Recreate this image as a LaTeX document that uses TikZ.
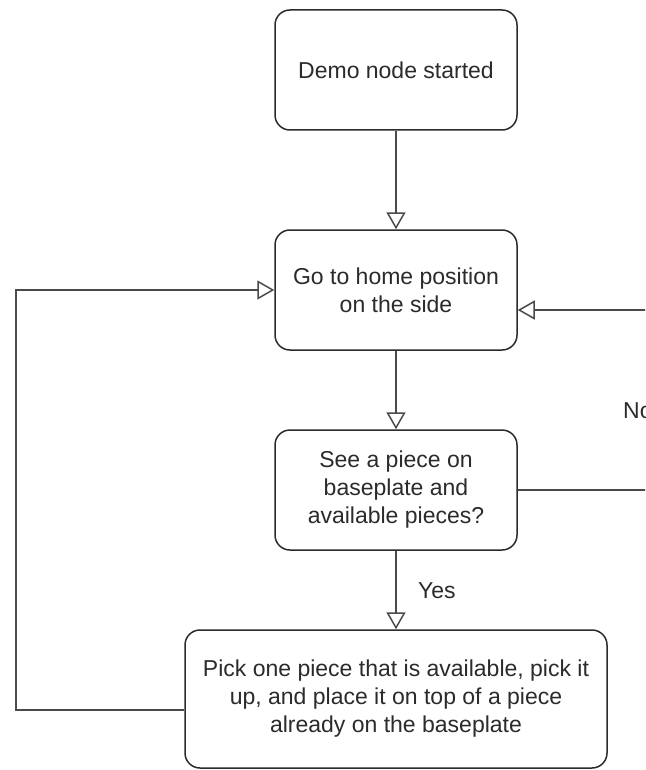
\documentclass[tikz,border=0pt]{standalone}
\usepackage{fontspec}
\setmainfont{Liberation Sans}
\usetikzlibrary{arrows.meta,positioning}
\definecolor{Ink}{HTML}{2B2B2B}
\definecolor{Wire}{HTML}{4A4A4A}

\begin{document}
\begin{tikzpicture}[x=1pt,y=-1pt,
  font=\fontsize{23}{28}\selectfont,
  stage/.style={draw=Ink,line width=1.5pt,rounded corners=15pt,fill=white,
    minimum width=242pt,minimum height=120pt,align=center,inner sep=0pt,text=Ink},
  arr/.style={-{Triangle[open,length=17pt,width=19pt]},line width=1.5pt,color=Wire},
  lbl/.style={anchor=base west,inner sep=0pt,text=Ink}
]
\useasboundingbox (0,0) rectangle (645,770);
\clip (0,0) rectangle (645,770);

% Main column of steps.
\node[stage] (start) at (396,70) {Demo node started};
\node[stage] (home) at (396,290) {Go to home position\\on the side};
\node[stage] (check) at (396,490) {See a piece on\\baseplate and\\available pieces?};
\node[stage,minimum width=422pt,minimum height=138pt] (pick) at (396,699)
  {Pick one piece that is available, pick it\\
   up, and place it on top of a piece\\
   already on the baseplate};

\draw[arr] (start) -- (home);
\draw[arr] (home) -- (check);
\draw[arr] (check) -- (pick);
\node[lbl] (yes) at (418,598) {Yes};

% Loops back to the home position.
\coordinate (loopL) at (16,710);
\coordinate (loopR) at (680,490);
\draw[arr] ([yshift=-11pt]pick.west) -- (loopL) |- (home.west);
\draw[arr] (check.east) -- (loopR) |- ([yshift=-20pt]home.east);
\node[lbl] (no) at (623,418) {No};
\end{tikzpicture}
\end{document}
